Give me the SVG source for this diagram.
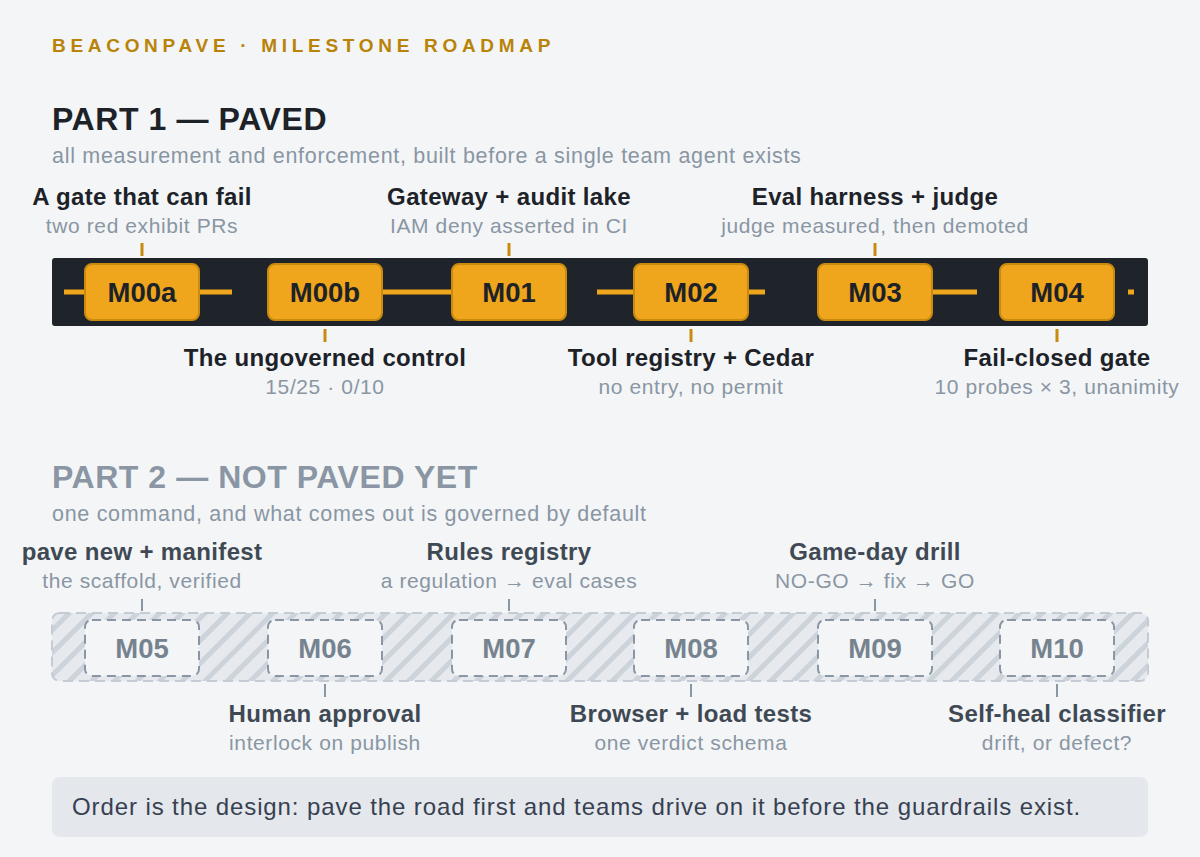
<svg xmlns="http://www.w3.org/2000/svg" width="1200" height="857" viewBox="0 0 1200 857">
<defs>
<pattern id="hatch" width="16" height="16" patternUnits="userSpaceOnUse" patternTransform="rotate(45)">
<rect width="16" height="16" fill="#e6e9ed"/>
<rect width="5" height="16" fill="#cdd3da"/>
</pattern>
<style>
text{font-family:"Liberation Sans",Arial,sans-serif}
.eyebrow{font-size:19px;font-weight:bold;fill:#b98308;letter-spacing:4.7px}
.h1{font-size:32px;font-weight:bold;fill:#1d2228;letter-spacing:0.6px}
.h2{font-size:32px;font-weight:bold;fill:#8a96a3;letter-spacing:0.55px}
.sub{font-size:21.5px;fill:#8a96a3;letter-spacing:0.7px}
.lt{font-size:24px;font-weight:bold;fill:#1d2228;text-anchor:middle;letter-spacing:0.35px}
.lt2{font-size:24px;font-weight:bold;fill:#3f4954;text-anchor:middle;letter-spacing:0.35px}
.ls{font-size:21px;fill:#8a96a3;text-anchor:middle;letter-spacing:0.6px}
.box{fill:#efa51c;stroke:#c98a10;stroke-width:2}
.bt{font-size:27.5px;font-weight:bold;fill:#1d2228;text-anchor:middle}
.dbox{fill:#f3f5f7;stroke:#8a96a3;stroke-width:2;stroke-dasharray:9 6}
.dt{font-size:27.5px;font-weight:bold;fill:#76838f;text-anchor:middle}
.tick{stroke:#c98a10;stroke-width:3}
.tick2{stroke:#8a96a3;stroke-width:2}
.road{stroke:#efa51c;stroke-width:5}
</style>
</defs>
<rect width="1200" height="857" fill="#f3f5f7"/>
<text x="52" y="52" class="eyebrow">BEACONPAVE · MILESTONE ROADMAP</text>
<text x="52" y="130" class="h1">PART 1 — PAVED</text>
<text x="52" y="163" class="sub">all measurement and enforcement, built before a single team agent exists</text>
<rect x="52" y="258" width="1096" height="68" rx="3" fill="#1f242b"/>
<g id="connectors">
<line class="road" x1="64" y1="292" x2="85" y2="292"/>
<line class="road" x1="199" y1="292" x2="232" y2="292"/>
<line class="road" x1="382" y1="292" x2="452" y2="292"/>
<line class="road" x1="597" y1="292" x2="634" y2="292"/>
<line class="road" x1="748" y1="292" x2="765" y2="292"/>
<line class="road" x1="932" y1="292" x2="977" y2="292"/>
<line class="road" x1="1128" y1="292" x2="1134" y2="292"/>
<line class="tick" x1="142" y1="243" x2="142" y2="256"/>
<line class="tick" x1="509" y1="243" x2="509" y2="256"/>
<line class="tick" x1="875" y1="243" x2="875" y2="256"/>
<line class="tick" x1="325" y1="329" x2="325" y2="342"/>
<line class="tick" x1="691" y1="329" x2="691" y2="342"/>
<line class="tick" x1="1057" y1="329" x2="1057" y2="342"/>
<line class="tick2" x1="142" y1="599" x2="142" y2="611"/>
<line class="tick2" x1="509" y1="599" x2="509" y2="611"/>
<line class="tick2" x1="875" y1="599" x2="875" y2="611"/>
<line class="tick2" x1="325" y1="684" x2="325" y2="697"/>
<line class="tick2" x1="691" y1="684" x2="691" y2="697"/>
<line class="tick2" x1="1057" y1="684" x2="1057" y2="697"/>
</g>
<g id="M00a"><rect class="box" x="85" y="264" width="114" height="56" rx="7"/><text x="142" y="302" class="bt">M00a</text>
<text x="142" y="205" class="lt">A gate that can fail</text><text x="142" y="233" class="ls">two red exhibit PRs</text></g>
<g id="M00b"><rect class="box" x="268" y="264" width="114" height="56" rx="7"/><text x="325" y="302" class="bt">M00b</text>
<text x="325" y="366" class="lt">The ungoverned control</text><text x="325" y="394" class="ls">15/25 · 0/10</text></g>
<g id="M01"><rect class="box" x="452" y="264" width="114" height="56" rx="7"/><text x="509" y="302" class="bt">M01</text>
<text x="509" y="205" class="lt">Gateway + audit lake</text><text x="509" y="233" class="ls">IAM deny asserted in CI</text></g>
<g id="M02"><rect class="box" x="634" y="264" width="114" height="56" rx="7"/><text x="691" y="302" class="bt">M02</text>
<text x="691" y="366" class="lt">Tool registry + Cedar</text><text x="691" y="394" class="ls">no entry, no permit</text></g>
<g id="M03"><rect class="box" x="818" y="264" width="114" height="56" rx="7"/><text x="875" y="302" class="bt">M03</text>
<text x="875" y="205" class="lt">Eval harness + judge</text><text x="875" y="233" class="ls">judge measured, then demoted</text></g>
<g id="M04"><rect class="box" x="1000" y="264" width="114" height="56" rx="7"/><text x="1057" y="302" class="bt">M04</text>
<text x="1057" y="366" class="lt">Fail-closed gate</text><text x="1057" y="394" class="ls">10 probes × 3, unanimity</text></g>

<text x="52" y="488" class="h2">PART 2 — NOT PAVED YET</text>
<text x="52" y="521" class="sub">one command, and what comes out is governed by default</text>
<rect x="52" y="613" width="1096" height="68" rx="8" fill="url(#hatch)" stroke="#c4cbd2" stroke-width="2" stroke-dasharray="10 6"/>
<g id="M05"><rect class="dbox" x="85" y="620" width="114" height="56" rx="7"/><text x="142" y="658" class="dt">M05</text>
<text x="142" y="560" class="lt2">pave new + manifest</text><text x="142" y="588" class="ls">the scaffold, verified</text></g>
<g id="M06"><rect class="dbox" x="268" y="620" width="114" height="56" rx="7"/><text x="325" y="658" class="dt">M06</text>
<text x="325" y="722" class="lt2">Human approval</text><text x="325" y="750" class="ls">interlock on publish</text></g>
<g id="M07"><rect class="dbox" x="452" y="620" width="114" height="56" rx="7"/><text x="509" y="658" class="dt">M07</text>
<text x="509" y="560" class="lt2">Rules registry</text><text x="509" y="588" class="ls">a regulation → eval cases</text></g>
<g id="M08"><rect class="dbox" x="634" y="620" width="114" height="56" rx="7"/><text x="691" y="658" class="dt">M08</text>
<text x="691" y="722" class="lt2">Browser + load tests</text><text x="691" y="750" class="ls">one verdict schema</text></g>
<g id="M09"><rect class="dbox" x="818" y="620" width="114" height="56" rx="7"/><text x="875" y="658" class="dt">M09</text>
<text x="875" y="560" class="lt2">Game-day drill</text><text x="875" y="588" class="ls">NO-GO → fix → GO</text></g>
<g id="M10"><rect class="dbox" x="1000" y="620" width="114" height="56" rx="7"/><text x="1057" y="658" class="dt">M10</text>
<text x="1057" y="722" class="lt2">Self-heal classifier</text><text x="1057" y="750" class="ls">drift, or defect?</text></g>

<rect x="52" y="777" width="1096" height="60" rx="8" fill="#e4e7eb"/>
<text x="72" y="815" font-size="24" letter-spacing="0.9" fill="#374151">Order is the design: pave the road first and teams drive on it before the guardrails exist.</text>
</svg>
